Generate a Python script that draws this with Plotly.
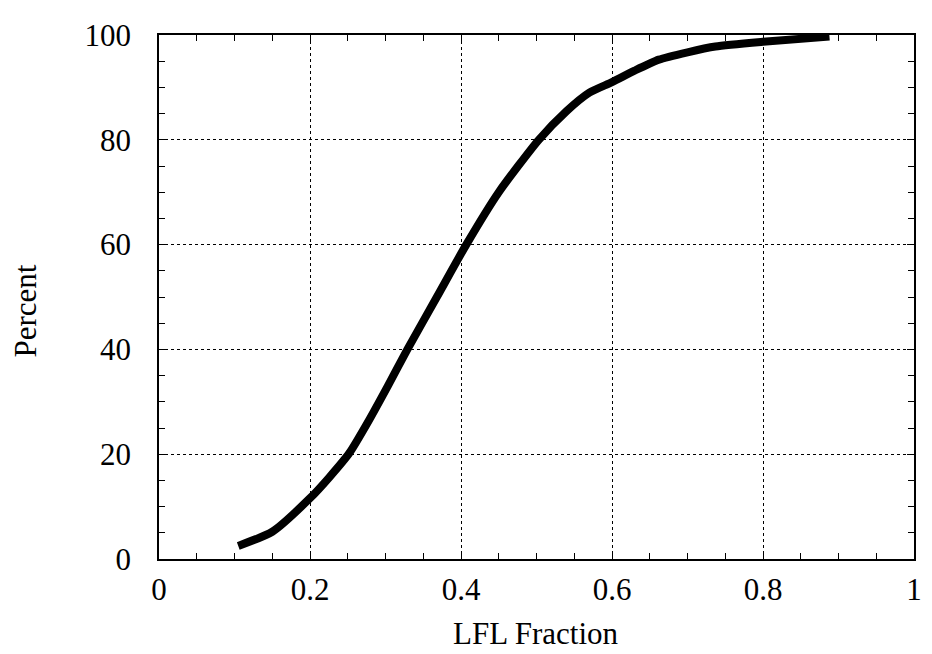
import plotly.graph_objects as go

# Data
lfl_fraction = [0.105, 0.15, 0.2, 0.225, 0.252, 0.277, 0.303, 0.329, 0.368, 0.407,
                0.45, 0.503, 0.54, 0.57, 0.6, 0.63, 0.662, 0.7, 0.737, 0.8, 0.888]
percent = [2.5, 5.2, 11.6, 15.5, 20.2, 26.2, 33.0, 40.0, 50.0, 60.0,
           70.0, 80.0, 85.5, 89.0, 91.0, 93.2, 95.3, 96.7, 97.8, 98.7, 99.7]

x_ticks = [0, 0.2, 0.4, 0.6, 0.8, 1]
x_ticklabels = ["0", "0.2", "0.4", "0.6", "0.8", "1"]
y_ticks = [0, 20, 40, 60, 80, 100]
y_ticklabels = ["0", "20", "40", "60", "80", "100"]

FONT = "Liberation Serif, Times New Roman, serif"

fig = go.Figure()
fig.add_trace(go.Scatter(
    x=lfl_fraction, y=percent, mode="lines",
    line=dict(color="black", width=8, shape="spline", smoothing=0.6),
    showlegend=False,
))

axis_common = dict(
    showline=True, linecolor="black", linewidth=1.5, mirror="allticks",
    ticks="inside", ticklen=7, tickwidth=1.2, tickcolor="black",
    showgrid=True, gridcolor="black", gridwidth=1, griddash="dot",
    zeroline=False,
    tickfont=dict(family=FONT, size=31, color="black"),
)

fig.update_xaxes(
    range=[0, 1], tickvals=x_ticks, ticktext=x_ticklabels,
    minor=dict(dtick=0.05, ticks="inside", ticklen=6, tickcolor="black", tickwidth=1, showgrid=False),
    ticklabelstandoff=2,
    **axis_common,
)
fig.update_yaxes(
    range=[0, 100], tickvals=y_ticks, ticktext=y_ticklabels,
    minor=dict(dtick=5, ticks="inside", ticklen=6, tickcolor="black", tickwidth=1, showgrid=False),
    ticklabelstandoff=20,
    **axis_common,
)

fig.add_annotation(text="LFL Fraction", xref="paper", yref="paper", x=0.499, y=-0.142,
                   xanchor="center", yanchor="middle", showarrow=False,
                   font=dict(family=FONT, size=31, color="black"))
fig.add_annotation(text="Percent", xref="paper", yref="paper", x=-0.177, y=0.473,
                   xanchor="center", yanchor="middle", showarrow=False, textangle=-90,
                   font=dict(family=FONT, size=31, color="black"))

# The page body has an 8px margin, so the figure is shrunk and shifted to match
fig.update_layout(
    width=924, height=646,
    margin=dict(l=151, r=10, t=22, b=95),
    plot_bgcolor="white", paper_bgcolor="white",
    font=dict(family=FONT, color="black"),
)

fig.write_html("out.html")
